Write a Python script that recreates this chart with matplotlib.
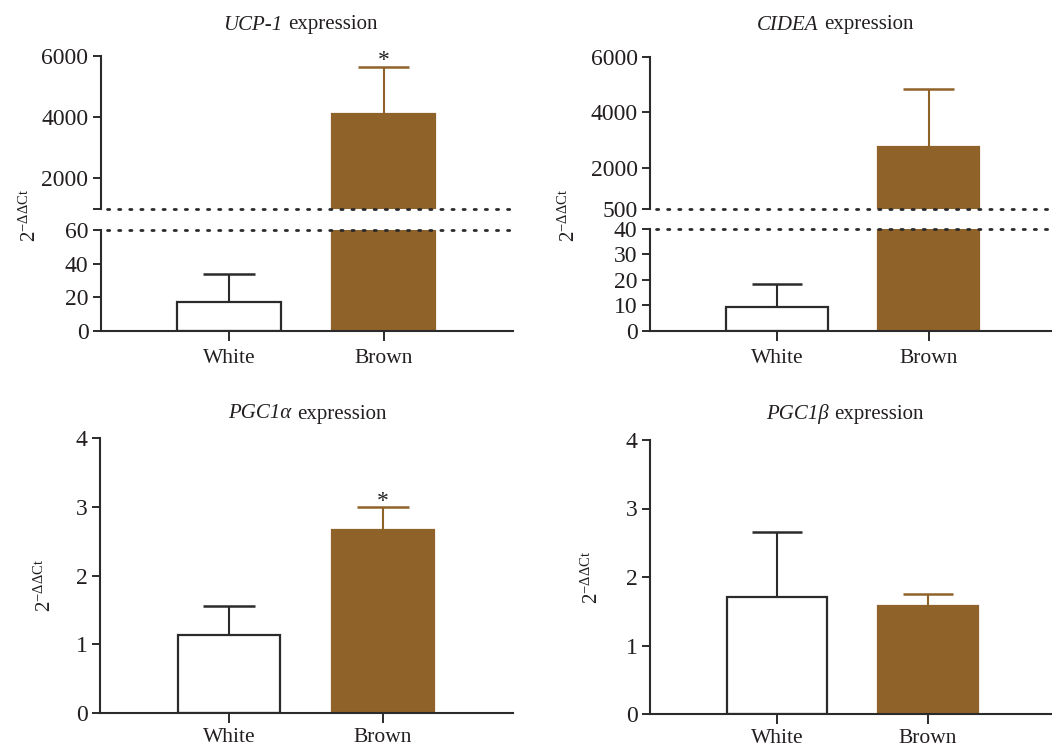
import matplotlib
matplotlib.use('Agg')
import matplotlib.pyplot as plt
from matplotlib.offsetbox import TextArea, HPacker, AnnotationBbox

plt.rcParams['font.family'] = ['Liberation Serif', 'DejaVu Serif']
plt.rcParams['mathtext.fontset'] = 'custom'
plt.rcParams['mathtext.rm'] = 'Liberation Serif'
plt.rcParams['mathtext.it'] = 'Liberation Serif:italic'
plt.rcParams['mathtext.bf'] = 'Liberation Serif:bold'

# ---------------- data ----------------
groups = ['White', 'Brown']

ucp1_mean = [17, 4110]
ucp1_sd = [17, 1520]

cidea_mean = [9.5, 2760]
cidea_sd = [9.0, 2070]

pgc1a_mean = [1.13, 2.66]
pgc1a_sd = [0.42, 0.33]

pgc1b_mean = [1.71, 1.57]
pgc1b_sd = [0.95, 0.18]

ucp1_upper_ticks = [1000, 2000, 4000, 6000]
ucp1_upper_labels = ['', '2000', '4000', '6000']
ucp1_lower_ticks = [0, 20, 40, 60]

cidea_upper_ticks = [500, 2000, 4000, 6000]
cidea_upper_labels = ['500', '2000', '4000', '6000']
cidea_lower_ticks = [0, 10, 20, 30, 40]

pgc_ticks = [0, 1, 2, 3, 4]

# ---------------- style ----------------
W, H = 1052, 747
BROWN = '#8F622A'
DARK = '#2b2b2b'
TXT = '#231F20'
BAR_W = 0.667
YTICK_FS = 17
XTICK_FS = 15.5
TITLE_FS = 15

fig = plt.figure(figsize=(W / 100, H / 100), dpi=100)


def rect(x0, x1, ytop, ybot):
    return [x0 / W, 1 - ybot / H, (x1 - x0) / W, (ybot - ytop) / H]


def xlims(x0, x1, c0, c1):
    s = c1 - c0
    return ((x0 - c0) / s, (x1 - c0) / s)


def draw_bars(ax, means, sds):
    xs = [0, 1]
    ax.bar(xs, means, BAR_W, color=['white', BROWN],
           edgecolor=[DARK, BROWN], linewidth=1.6, zorder=2)
    cols = [DARK, BROWN]
    for x, m, s, c in zip(xs, means, sds, cols):
        ax.vlines(x, m, m + s, color=c, lw=1.5, zorder=3)
        ax.hlines(m + s, x - BAR_W / 4, x + BAR_W / 4, color=c, lw=1.8, zorder=3)


def style_axis(ax):
    ax.tick_params(axis='both', direction='out', length=6, width=1.4,
                   colors=DARK, labelcolor=TXT, pad=3)
    ax.tick_params(axis='y', labelsize=YTICK_FS)
    ax.tick_params(axis='x', labelsize=XTICK_FS)
    for sp in ax.spines.values():
        sp.set_color(DARK)
        sp.set_linewidth(1.5)
    ax.spines['top'].set_visible(False)
    ax.spines['right'].set_visible(False)
    ax.set_facecolor('none')


def ylabel(x, y):
    fig.text(x / W, 1 - y / H, r'$2^{-\Delta\Delta\mathrm{Ct}}$', rotation=90,
             ha='center', va='center', fontsize=15, color=TXT)


def title(x, y, gene):
    parts = [TextArea(gene, textprops=dict(style='italic', fontsize=TITLE_FS, color=TXT)),
             TextArea('expression', textprops=dict(fontsize=TITLE_FS, color=TXT))]
    box = HPacker(children=parts, align='baseline', pad=0, sep=4)
    ab = AnnotationBbox(box, (x / W, 1 - y / H), xycoords='figure fraction',
                        frameon=False, box_alignment=(0.5, 0.5), pad=0)
    fig.add_artist(ab)


def star(ax, x, top):
    ax.annotate('*', xy=(x, top), xytext=(0, -3), textcoords='offset points',
                ha='center', va='bottom', fontsize=17, color=TXT,
                annotation_clip=False)


def broken_panel(x0, x1, ytop, ybreak_up, ybreak_low, ybot, c0, c1,
                 upper_lim, upper_ticks, upper_labels, lower_lim, lower_ticks,
                 means, sds, has_star):
    xl = xlims(x0, x1, c0, c1)
    ax_u = fig.add_axes(rect(x0, x1, ytop, ybreak_up))
    ax_l = fig.add_axes(rect(x0, x1, ybreak_low, ybot))
    for ax, lim in ((ax_u, upper_lim), (ax_l, lower_lim)):
        draw_bars(ax, means, sds)
        ax.set_xlim(*xl)
        ax.set_ylim(*lim)
        style_axis(ax)
    ax_u.spines['bottom'].set_visible(False)
    ax_u.set_xticks([])
    ax_u.set_yticks(upper_ticks)
    ax_u.set_yticklabels(upper_labels)
    ax_l.set_yticks(lower_ticks)
    ax_l.set_xticks([0, 1])
    ax_l.set_xticklabels(groups)
    ax_l.tick_params(axis='x', pad=6, length=7)
    for ax, yv in ((ax_u, upper_lim[0]), (ax_l, lower_lim[1])):
        ax.plot([xl[0] + 0.04, xl[1]], [yv, yv], ls=(0, (0.8, 3.2)), lw=2.0,
                color=DARK, clip_on=False, zorder=4,
                dash_capstyle='round')
    if has_star:
        star(ax_u, 1, means[1] + sds[1])
    return ax_u, ax_l


def simple_panel(x0, x1, ytop, ybot, c0, c1, lim, ticks, means, sds, has_star):
    xl = xlims(x0, x1, c0, c1)
    ax = fig.add_axes(rect(x0, x1, ytop, ybot))
    draw_bars(ax, means, sds)
    ax.set_xlim(*xl)
    ax.set_ylim(*lim)
    style_axis(ax)
    ax.set_yticks(ticks)
    ax.set_xticks([0, 1])
    ax.set_xticklabels(groups)
    ax.tick_params(axis='x', pad=4, length=7)
    if has_star:
        star(ax, 1, means[1] + sds[1])
    return ax


# UCP-1
broken_panel(101, 513, 56, 209, 230, 331, 229, 383.5,
             (1000, 6000), ucp1_upper_ticks, ucp1_upper_labels,
             (0, 60), ucp1_lower_ticks, ucp1_mean, ucp1_sd, True)
title(300, 25, 'UCP-1')
ylabel(30, 215)

# CIDEA
broken_panel(650, 1052, 57, 209, 229, 331, 777, 928.5,
             (500, 6000), cidea_upper_ticks, cidea_upper_labels,
             (0, 40), cidea_lower_ticks, cidea_mean, cidea_sd, False)
title(835, 25, 'CIDEA')
ylabel(569, 215)

# PGC1alpha
simple_panel(100, 513, 438, 713, 229, 383, (0, 4), pgc_ticks,
             pgc1a_mean, pgc1a_sd, True)
title(307, 414, 'PGC1α')
ylabel(45, 585)

# PGC1beta
simple_panel(650, 1052, 440, 714, 777, 928, (0, 4), pgc_ticks,
             pgc1b_mean, pgc1b_sd, False)
title(845, 414, 'PGC1β')
ylabel(592, 577)

fig.savefig('out.png', dpi=100, facecolor='white')
